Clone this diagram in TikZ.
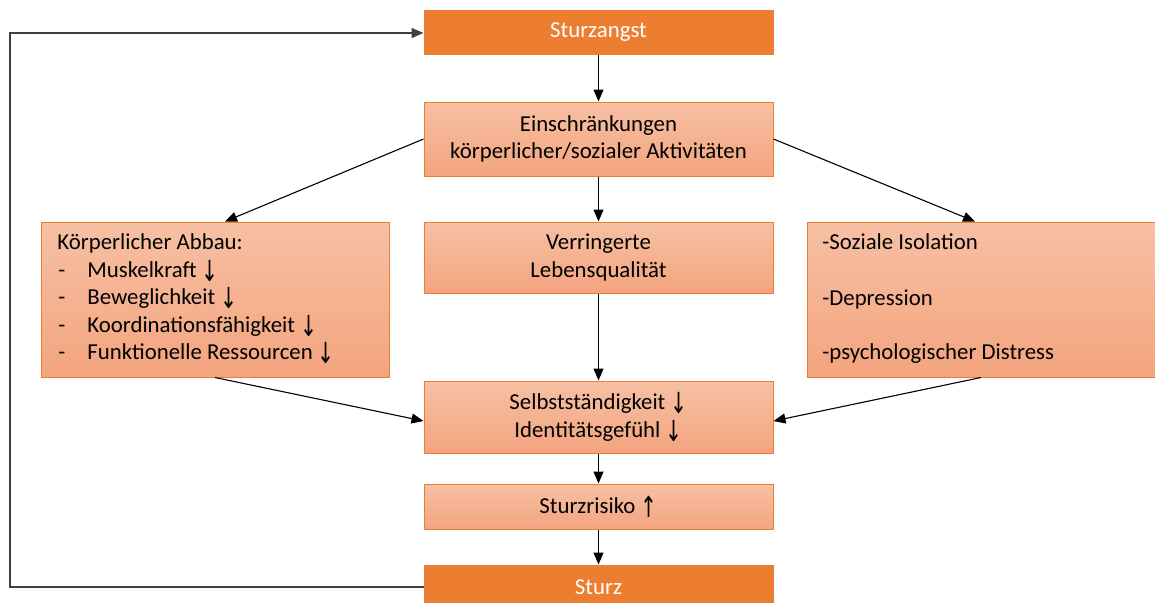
\documentclass[tikz,border=0pt]{standalone}
\usepackage{fontspec}
\usepackage{graphicx}
\setmainfont{Carlito}
\newfontfamily\arrowfont{DejaVu Sans}
\usetikzlibrary{arrows.meta}
\definecolor{darkor}{RGB}{237,125,49}
\definecolor{lighttop}{RGB}{247,192,164}
\definecolor{lightbot}{RGB}{243,164,126}
\definecolor{loopgray}{RGB}{64,64,64}
\newcommand\dnarr{\raisebox{-2pt}{\scalebox{0.7}[1]{\arrowfont\fontsize{14.5}{15}\selectfont ↓}}}
\newcommand\uparr{\raisebox{-2pt}{\scalebox{0.7}[1]{\arrowfont\fontsize{14.5}{15}\selectfont ↑}}}
\begin{document}
\begin{tikzpicture}[x=0.5pt,y=-0.5pt,
  every node/.style={font=\fontsize{11.4}{13.9}\selectfont},
  darkbox/.style={draw=darkor,fill=darkor,line width=0.5pt,text=white,minimum width=174.5pt,align=center,inner sep=0pt},
  lightbox/.style={draw=darkor,line width=0.5pt,top color=lighttop,bottom color=lightbot,minimum width=174.5pt,align=center,inner sep=0pt},
  txt/.style={anchor=base west,inner sep=0pt},
  arr/.style={-{Triangle[length=6pt,width=5pt]},line width=0.55pt,black}]
\useasboundingbox (0,0) rectangle (1155,602);

\node[darkbox,minimum height=22pt] (angst) at (598.5,32) {Sturzangst};
\node[lightbox,minimum height=37pt] (ein) at (598.5,139) {Einschränkungen\\körperlicher/sozialer Aktivitäten};
\node[lightbox,minimum height=77.5pt,minimum width=174pt] (left) at (215,299.5) {};
\node[lightbox,minimum height=35.5pt] (lq) at (598.5,257.5) {Verringerte\\Lebensqualität};
\node[lightbox,minimum height=77.5pt,minimum width=174pt] (right) at (981,299.5) {};
\node[lightbox,minimum height=36pt] (selbst) at (598.5,417) {Selbstständigkeit \dnarr\\Identitätsgefühl \dnarr};
\node[lightbox,minimum height=22.5pt] (risiko) at (598.5,506.5) {Sturzrisiko \uparr};
\node[darkbox,minimum height=22pt] (sturz) at (598.5,587) {Sturz};

% left box text
\node[txt] (l0) at (57,249) {Körperlicher Abbau:};
\node[txt] (d1) at (58,277) {-};
\node[txt] (l1) at (87,277) {Muskelkraft \dnarr};
\node[txt] (d2) at (58,304) {-};
\node[txt] (l2) at (87,304) {Beweglichkeit \dnarr};
\node[txt] (d3) at (58,332) {-};
\node[txt] (l3) at (87,332) {Koordinationsfähigkeit \dnarr};
\node[txt] (d4) at (58,359) {-};
\node[txt] (l4) at (87,359) {Funktionelle Ressourcen \dnarr};

% right box text
\node[txt] (r1) at (822,249) {-Soziale Isolation};
\node[txt] (r2) at (822,305) {-Depression};
\node[txt] (r3) at (822,359) {-psychologischer Distress};

% connectors
\draw[arr] (angst) -- (ein);
\draw[arr] (ein.west) -- ([xshift=5]left.north);
\draw[arr] (ein.east) -- ([xshift=-3]right.north);
\draw[arr] (ein) -- (lq);
\draw[arr] (lq) -- (selbst);
\draw[arr] (left.south) -- ([yshift=-2]selbst.west);
\draw[arr] (right.south) -- ([yshift=-2]selbst.east);
\draw[arr] (selbst) -- (risiko);
\draw[arr] (risiko) -- (sturz);
\coordinate (lb) at (10,587);
\coordinate (lt) at (10,33);
\draw[arr,draw=loopgray,line width=0.7pt] (sturz.west) -- (lb) -- (lt) -- (lt -| angst.west);
\end{tikzpicture}
\end{document}
